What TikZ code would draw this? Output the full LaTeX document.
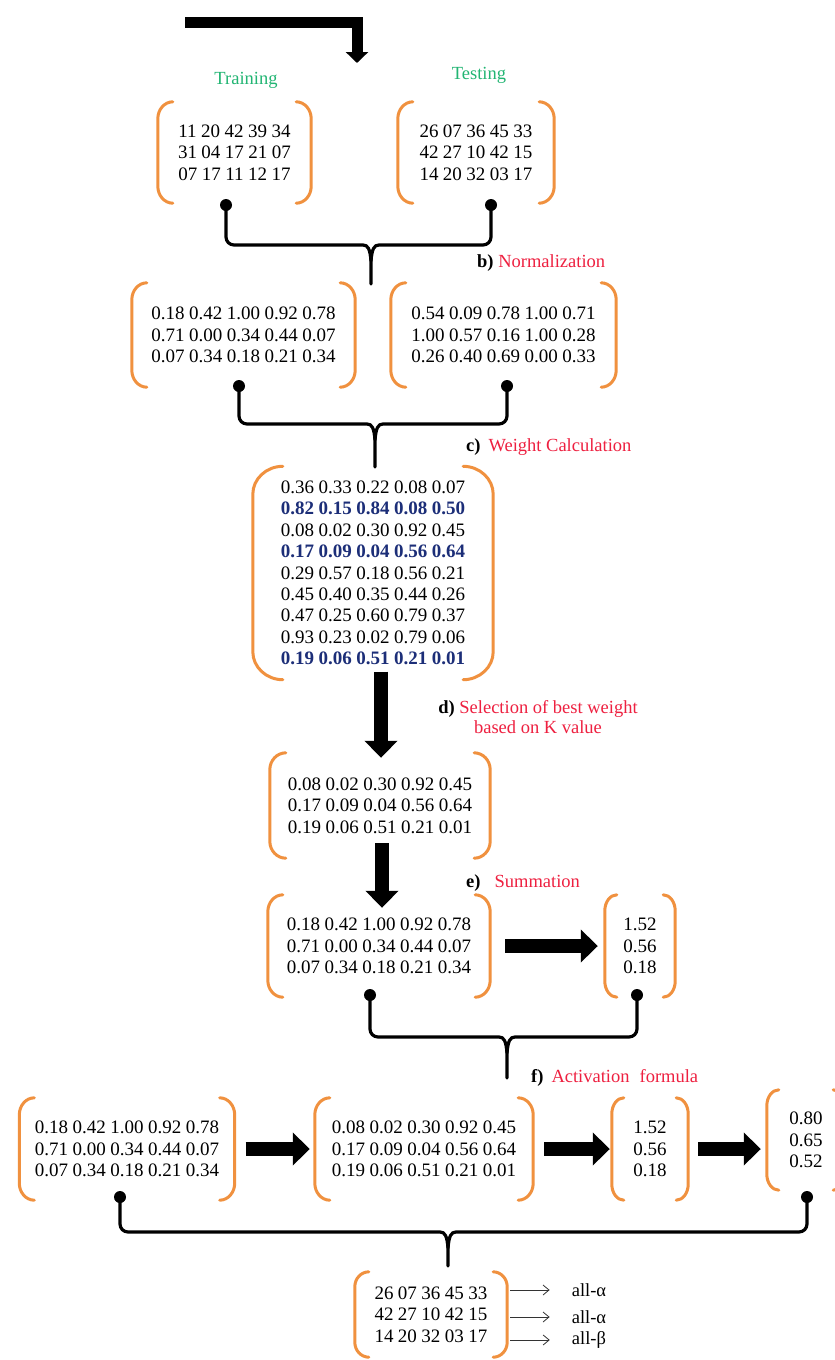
\documentclass[tikz,border=0pt]{standalone}
\usepackage{fontspec}
\setmainfont{Liberation Serif}
\usetikzlibrary{calc,arrows.meta}
\definecolor{brko}{HTML}{F0913F}
\definecolor{grn}{HTML}{22B573}
\definecolor{lred}{HTML}{EE2040}
\definecolor{navy}{HTML}{1C2E78}
\newcommand\mbrack[3]{%
 \draw[brk] ($(#1.north west)+(#2,0)$) .. controls ($(#1.north west)+(0.45*#2,0)$) and ($(#1.north west)+(0,0.45*#3)$) .. ($(#1.north west)+(0,#3)$)
   -- ($(#1.south west)+(0,-#3)$) .. controls ($(#1.south west)+(0,-0.45*#3)$) and ($(#1.south west)+(0.45*#2,0)$) .. ($(#1.south west)+(#2,0)$);
 \draw[brk] ($(#1.north east)+(-#2,0)$) .. controls ($(#1.north east)+(-0.45*#2,0)$) and ($(#1.north east)+(0,0.45*#3)$) .. ($(#1.north east)+(0,#3)$)
   -- ($(#1.south east)+(0,-#3)$) .. controls ($(#1.south east)+(0,-0.45*#3)$) and ($(#1.south east)+(-0.45*#2,0)$) .. ($(#1.south east)+(-#2,0)$);
}
\newcommand\mbrace[4]{% dotL dotR cusp end
 \draw[brc] (#1.center) [rounded corners=8pt] |- ($(#3)+(-16,0)$) [sharp corners] .. controls ($(#3)+(-3,0)$) and ($(#3)+(-1,4)$) .. ($(#3)+(0,16)$) -- (#4);
 \draw[brc] (#2.center) [rounded corners=8pt] |- ($(#3)+(16,0)$) [sharp corners] .. controls ($(#3)+(3,0)$) and ($(#3)+(1,4)$) .. ($(#3)+(0,16)$);
}
\begin{document}
\begin{tikzpicture}[x=1pt,y=-1pt,
 mat/.style={inner sep=0pt, align=center, font={\fontsize{19}{21.4}\selectfont\spaceskip=4.5pt\relax}},
 brk/.style={draw=brko, line width=3pt, line cap=round},
 lab/.style={inner sep=0pt, font={\fontsize{18.5}{20}\selectfont}},
 dotn/.style={circle, fill=black, inner sep=0pt, minimum size=12pt},
 brc/.style={line width=3.2pt, line cap=round},
 bigarr/.style={line width=14pt, -{Triangle[length=17pt,width=32pt]}},
 thinarr/.style={line width=0.8pt, draw=black!80, -{Straight Barb[length=6pt,width=10pt]}}
]
\fill[white] (0,0) rectangle (835,1360);
\clip (0,0) rectangle (835,1360);

% top arrow
\coordinate (ts) at (185,22.5);
\coordinate (tc) at (357,22.5);
\coordinate (tt) at (357,63);
\draw[line width=11pt, line join=miter, -{Triangle[length=11pt,width=22pt]}] (ts) -- (tc) -- (tt);

% labels
\node[lab, text=grn] (ltr) at (246,80) {Training};
\node[lab, text=grn] (lte) at (479,75) {Testing};
\node[lab, anchor=west] (lb) at (477,263) {\textbf{b)} \textcolor{lred}{Normalization}};
\node[lab, anchor=west] (lc) at (466,447) {\textbf{c)}\hspace{8pt}\textcolor{lred}{Weight Calculation}};
\node[lab, align=center] (ld) at (538,717) {\textbf{d)} \textcolor{lred}{Selection of best weight}\\\textcolor{lred}{based on K value}};
\node[lab, anchor=west] (le) at (466,883) {\textbf{e)}\hspace{14pt}\textcolor{lred}{Summation}};
\node[lab, anchor=west] (lf) at (531,1078) {\textbf{f)}\hspace{8pt}\textcolor{lred}{Activation\hspace{10pt}formula}};

% matrices
\node[mat, minimum width=153pt, minimum height=101pt] (tr) at (234.5,152.5) {11 20 42 39 34\\31 04 17 21 07\\07 17 11 12 17};
\node[mat, minimum width=156pt, minimum height=101pt] (te) at (476,152.5) {26 07 36 45 33\\42 27 10 42 15\\14 20 32 03 17};
\node[mat, minimum width=223pt, minimum height=104pt] (n1) at (243.5,335) {0.18 0.42 1.00 0.92 0.78\\0.71 0.00 0.34 0.44 0.07\\0.07 0.34 0.18 0.21 0.34};
\node[mat, minimum width=225pt, minimum height=104pt] (n2) at (503.5,335) {0.54 0.09 0.78 1.00 0.71\\1.00 0.57 0.16 1.00 0.28\\0.26 0.40 0.69 0.00 0.33};
\node[mat, minimum width=240pt, minimum height=213pt] (w) at (373,573) {0.36 0.33 0.22 0.08 0.07\\{\bfseries\color{navy}0.82 0.15 0.84 0.08 0.50}\\0.08 0.02 0.30 0.92 0.45\\{\bfseries\color{navy}0.17 0.09 0.04 0.56 0.64}\\0.29 0.57 0.18 0.56 0.21\\0.45 0.40 0.35 0.44 0.26\\0.47 0.25 0.60 0.79 0.37\\0.93 0.23 0.02 0.79 0.06\\{\bfseries\color{navy}0.19 0.06 0.51 0.21 0.01}};
\node[mat, minimum width=220pt, minimum height=105pt] (s) at (380,805.5) {0.08 0.02 0.30 0.92 0.45\\0.17 0.09 0.04 0.56 0.64\\0.19 0.06 0.51 0.21 0.01};
\node[mat, minimum width=222pt, minimum height=102pt] (sm) at (379,946) {0.18 0.42 1.00 0.92 0.78\\0.71 0.00 0.34 0.44 0.07\\0.07 0.34 0.18 0.21 0.34};
\node[mat, minimum width=70pt, minimum height=102pt] (v1) at (640,946) {1.52\\0.56\\0.18};
\node[mat, minimum width=215pt, minimum height=102pt] (a1) at (127,1149) {0.18 0.42 1.00 0.92 0.78\\0.71 0.00 0.34 0.44 0.07\\0.07 0.34 0.18 0.21 0.34};
\node[mat, minimum width=218pt, minimum height=102pt] (a2) at (424,1149) {0.08 0.02 0.30 0.92 0.45\\0.17 0.09 0.04 0.56 0.64\\0.19 0.06 0.51 0.21 0.01};
\node[mat, minimum width=76pt, minimum height=102pt] (v2) at (650,1149) {1.52\\0.56\\0.18};
\node[mat, minimum width=78pt, minimum height=100pt] (v3) at (806,1140) {0.80\\0.65\\0.52};
\node[mat, minimum width=152pt, minimum height=85pt] (t) at (431,1314.5) {26 07 36 45 33\\42 27 10 42 15\\14 20 32 03 17};

\mbrack{tr}{15}{17}
\mbrack{te}{15}{17}
\mbrack{n1}{15}{17}
\mbrack{n2}{15}{17}
\mbrack{w}{30}{28}
\mbrack{s}{16}{17}
\mbrack{sm}{15}{17}
\mbrack{v1}{12}{16}
\mbrack{a1}{15}{17}
\mbrack{a2}{15}{17}
\mbrack{v2}{12}{16}
\mbrack{v3}{12}{16}
\mbrack{t}{14}{15}

% dots
\node[dotn] (d1) at (226,205) {};
\node[dotn] (d2) at (491,205) {};
\node[dotn] (d3) at (239,386) {};
\node[dotn] (d4) at (507,386) {};
\node[dotn] (d5) at (370,995) {};
\node[dotn] (d6) at (637,995) {};
\node[dotn] (d7) at (120,1197) {};
\node[dotn] (d8) at (807,1197) {};

% braces
\coordinate (b1) at (371,245); \coordinate (e1) at (371,284);
\coordinate (b2) at (375,424); \coordinate (e2) at (375,467);
\coordinate (b3) at (507,1037); \coordinate (e3) at (507,1078);
\coordinate (b4) at (448,1232); \coordinate (e4) at (448,1266);
\mbrace{d1}{d2}{b1}{e1}
\mbrace{d3}{d4}{b2}{e2}
\mbrace{d5}{d6}{b3}{e3}
\mbrace{d7}{d8}{b4}{e4}

% big arrows
\draw[bigarr] ($(w.south)+(8,-8)$) -- ($(s.north)+(1,5)$);
\draw[bigarr] ($(s.south)+(2,-15)$) -- ($(sm.north)+(3,13)$);
\draw[bigarr, shorten <=15pt, shorten >=7pt] (sm) -- (v1);
\draw[bigarr, shorten <=11pt, shorten >=5pt] (a1) -- (a2);
\draw[bigarr, shorten <=11pt, shorten >=2pt] (a2) -- (v2);
\draw[bigarr, shorten <=10pt, shorten >=6pt] (v2.east) -- (v2.east -| v3.west);

% outputs
\node[lab] (l1) at (589,1290) {all-α};
\node[lab] (l2) at (589,1317) {all-α};
\node[lab] (l3) at (589,1340) {all-β};
\draw[thinarr, shorten <=3pt, shorten >=22pt] (t.east |- l1) -- (l1.west);
\draw[thinarr, shorten <=3pt, shorten >=22pt] (t.east |- l2) -- (l2.west);
\draw[thinarr, shorten <=3pt, shorten >=22pt] (t.east |- l3) -- (l3.west);
\end{tikzpicture}
\end{document}
